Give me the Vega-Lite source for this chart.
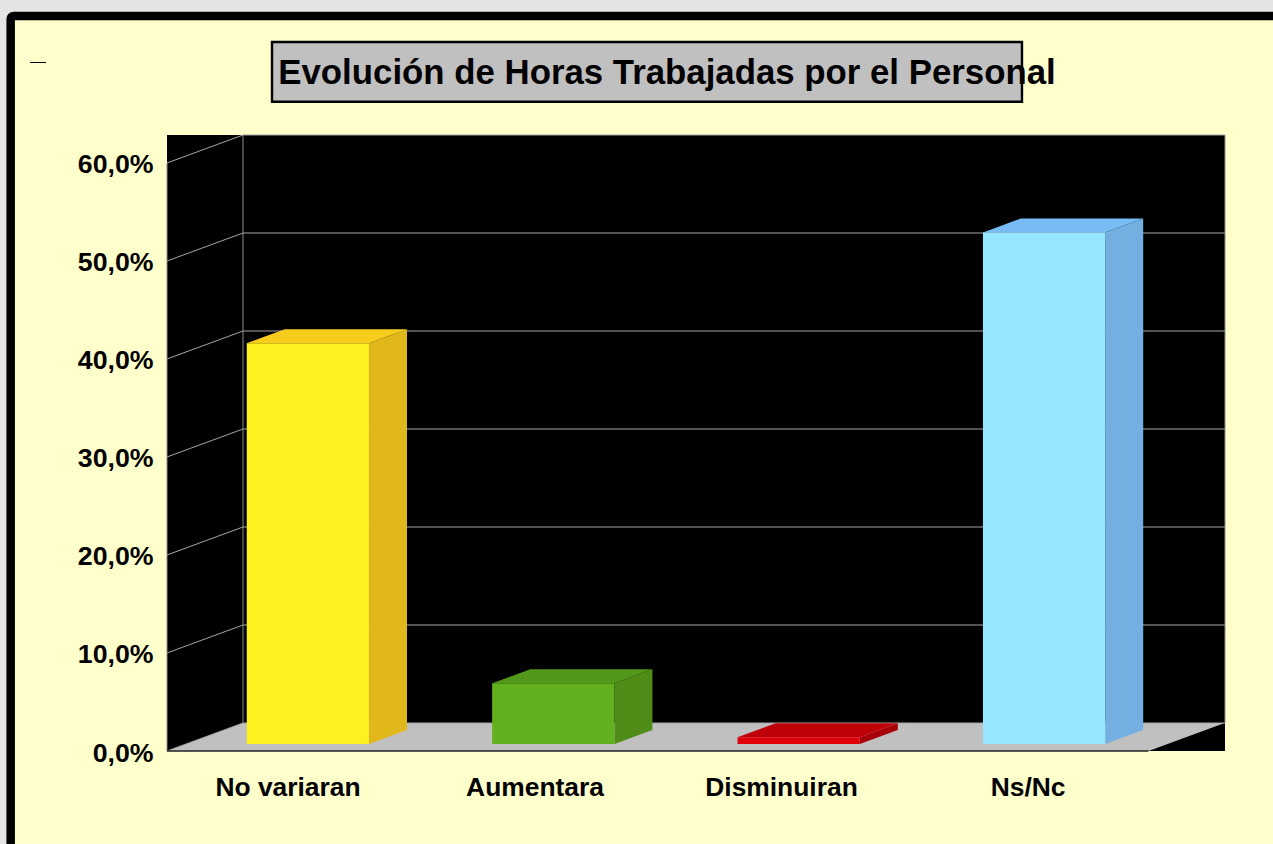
{
"$schema":"https://vega.github.io/schema/vega-lite/v6.json",
"autosize":{"type":"none"},
"padding":{"left":167,"top":135,"right":48,"bottom":93},
"width":1058,"height":616,
"background":"#E4E4E4",
"view":{"stroke":null},
"title":{"text":"Evolución de Horas Trabajadas por el Personal","font":"Liberation Sans","fontSize":34.8,"fontWeight":"bold","color":"#000000","anchor":"middle","dx":-29,"offset":-107,"baseline":"alphabetic"},
"datasets":{"barras":[
{"categoria":"No variaran","posicion":0,"valor":40.9},
{"categoria":"Aumentara","posicion":1,"valor":6.2},
{"categoria":"Disminuiran","posicion":2,"valor":0.7},
{"categoria":"Ns/Nc","posicion":3,"valor":52.2}],
"escala":[{"pct":0},{"pct":10},{"pct":20},{"pct":30},{"pct":40},{"pct":50},{"pct":60}]},
"resolve":{"scale":{"color":"independent"},"axis":{"x":"independent","y":"independent"}},
"layer":[
{"data":{"values":[{}]},"mark":{"type":"rect","fill":"#FFFFCC","stroke":"#000000","strokeWidth":8.5,"cornerRadius":3},
"encoding":{
"x":{"datum":-0.637,"type":"quantitative","scale":{"domain":[0,4.3113],"nice":false,"zero":false},"axis":{"zindex":1,"title":null,"domain":false,"ticks":false,"grid":false,"values":[0.491,1.4975,2.502,3.507],"labelExpr":"['No variaran','Aumentara','Disminuiran','Ns/Nc'][floor(datum.value)]","labelFont":"Liberation Sans","labelFontSize":26.4,"labelFontWeight":"bold","labelColor":"#000000","labelPadding":23,"labelOverlap":false,"labelBound":false,"labelFlush":false}},
"x2":{"datum":4.6},
"y":{"datum":75,"type":"quantitative","scale":{"domain":[0,62.857],"nice":false,"zero":false},"axis":{"zindex":1,"title":null,"domain":false,"ticks":false,"grid":false,"values":[0,10,20,30,40,50,60],"labelExpr":"replace(format(datum.value,'.1f'),'.',',')+'%'","labelFont":"Liberation Sans","labelFontSize":26.7,"labelFontWeight":"bold","labelColor":"#000000","labelPadding":14,"labelOffset":2,"labelOverlap":false,"labelBound":false,"labelFlush":false}},
"y2":{"datum":-15}}},
{"data":{"values":[{}]},"mark":{"type":"rule","stroke":"#000000","strokeWidth":1},
"encoding":{"x":{"datum":-0.558,"type":"quantitative","axis":null},"x2":{"datum":-0.493},"y":{"datum":70.255,"type":"quantitative","axis":null}}},
{"data":{"values":[{}]},"mark":{"type":"rect","fill":"#C0C0C0","stroke":"#000000","strokeWidth":2.4},
"encoding":{"x":{"datum":0.4279,"type":"quantitative","axis":null},"x2":{"datum":3.484},"y":{"datum":72.35,"type":"quantitative","axis":null},"y2":{"datum":66.25}}},
{"data":{"values":[{}]},"mark":{"type":"rect","fill":"#000000"},
"encoding":{"x":{"datum":0,"type":"quantitative","axis":null},"x2":{"datum":4.3113},"y":{"datum":0,"type":"quantitative","axis":null},"y2":{"datum":62.857}}},
{"data":{"values":[{"prof":0},{"prof":1}]},
"transform":[{"calculate":"datum.prof*0.3097","as":"xa"},{"calculate":"4+datum.prof*0.3097","as":"xb"},{"calculate":"datum.prof*2.857","as":"yy"}],
"mark":{"type":"area","orient":"horizontal","fill":"#C0C0C0"},
"encoding":{"y":{"field":"yy","type":"quantitative","axis":null},"x":{"field":"xa","type":"quantitative","axis":null},"x2":{"field":"xb"}}},
{"data":{"name":"escala"},"mark":{"type":"rule","stroke":"#A6A6A6","strokeWidth":1,"y2Offset":-28},
"encoding":{"x":{"datum":0,"type":"quantitative","axis":null},"x2":{"datum":0.3097},"y":{"field":"pct","type":"quantitative","axis":null},"y2":{"field":"pct"}}},
{"data":{"name":"escala"},"mark":{"type":"rule","stroke":"#A6A6A6","strokeWidth":1,"yOffset":-28},
"encoding":{"x":{"datum":0.3097,"type":"quantitative","axis":null},"x2":{"datum":4.3113},"y":{"field":"pct","type":"quantitative","axis":null}}},
{"data":{"values":[{"x":0,"a":0,"b":60},{"x":0.3097,"a":2.857,"b":62.857},{"x":4.3113,"a":2.857,"b":62.857}]},"mark":{"type":"rule","stroke":"#8C8C8C","strokeWidth":1},
"encoding":{"x":{"field":"x","type":"quantitative","axis":null},"y":{"field":"a","type":"quantitative","axis":null},"y2":{"field":"b"}}},
{"data":{"values":[{}]},"mark":{"type":"rule","stroke":"#222222","strokeWidth":1.5},
"encoding":{"x":{"datum":0,"type":"quantitative","axis":null},"x2":{"datum":4},"y":{"datum":0,"type":"quantitative","axis":null}}},
{"data":{"name":"barras"},
"transform":[{"calculate":"[0,1]","as":"borde"},{"flatten":["borde"]},{"calculate":"datum.posicion+0.823+datum.borde*0.155","as":"xs"},{"calculate":"0.714+datum.borde*1.429","as":"y0"},{"calculate":"datum.valor+0.714+datum.borde*1.429","as":"y1"}],
"mark":{"type":"area","orient":"vertical"},
"encoding":{"x":{"field":"xs","type":"quantitative","axis":null},"y":{"field":"y1","type":"quantitative","axis":null},"y2":{"field":"y0"},
"color":{"field":"categoria","type":"nominal","legend":null,"scale":{"domain":["No variaran","Aumentara","Disminuiran","Ns/Nc"],"range":["#E0B81C","#4F8C18","#A80008","#73AFE0"]}}}},
{"data":{"name":"barras"},
"transform":[{"calculate":"[0,1]","as":"borde"},{"flatten":["borde"]},{"calculate":"datum.posicion+0.325+datum.borde*0.155","as":"xa"},{"calculate":"datum.posicion+0.823+datum.borde*0.155","as":"xb"},{"calculate":"datum.valor+0.714+datum.borde*1.429","as":"y1"}],
"mark":{"type":"area","orient":"horizontal"},
"encoding":{"y":{"field":"y1","type":"quantitative","axis":null},"x":{"field":"xa","type":"quantitative","axis":null},"x2":{"field":"xb"},
"color":{"field":"categoria","type":"nominal","legend":null,"scale":{"domain":["No variaran","Aumentara","Disminuiran","Ns/Nc"],"range":["#F8CC1C","#52981A","#BE0008","#78BCF5"]}}}},
{"data":{"name":"barras"},
"transform":[{"calculate":"datum.posicion+0.325","as":"xa"},{"calculate":"datum.posicion+0.823","as":"xb"},{"calculate":"datum.valor+0.714","as":"y1"}],
"mark":{"type":"rect"},
"encoding":{"x":{"field":"xa","type":"quantitative","axis":null},"x2":{"field":"xb"},"y":{"field":"y1","type":"quantitative","axis":null},"y2":{"datum":0.714},
"color":{"field":"categoria","type":"nominal","legend":null,"scale":{"domain":["No variaran","Aumentara","Disminuiran","Ns/Nc"],"range":["#FFF020","#62B01E","#E0000C","#96E6FF"]}}}}
]
}
